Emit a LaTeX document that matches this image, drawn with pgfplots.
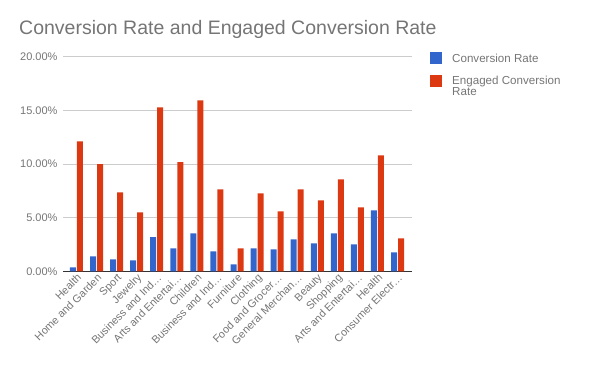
\documentclass[border=0pt]{standalone}
\usepackage{pgfplots}
\pgfplotsset{compat=1.18}
\usepackage{fontspec}
\setmainfont{Liberation Sans}
\definecolor{cblue}{HTML}{3366CC}
\definecolor{cred}{HTML}{DC3912}
\definecolor{tgray}{HTML}{757575}
\definecolor{ggray}{HTML}{CCCCCC}
\definecolor{agray}{HTML}{333333}
\begin{document}
\begin{tikzpicture}[x=1pt,y=1pt]
\useasboundingbox (0,0) rectangle (600,371);
\node[anchor=base west, text=tgray, font=\fontsize{19.5}{20}\selectfont, inner sep=0] at (19,336) {Conversion Rate and Engaged Conversion Rate};
\begin{axis}[
  at={(63pt,99.7pt)}, anchor=south west,
  scale only axis, width=349pt, height=214.7pt,
  ymin=0, ymax=20, xmin=-0.671, xmax=16.72,
  axis line style={draw=none},
  major tick length=0pt,
  ytick={5,10,15,20},
  extra y ticks={0},
  extra y tick style={grid style={agray, line width=1pt}},
  yticklabel={\pgfmathprintnumber[fixed,fixed zerofill,precision=2]{\tick}\%},
  /pgf/number format/assume math mode=true,
  ymajorgrids, grid style={ggray, line width=0.8pt},
  yticklabel style={font=\fontsize{11}{11}\selectfont, text=tgray, xshift=-2pt},
  xtick={0,...,16},
  xticklabels={Health, Home and Garden, Sport, Jewelry, Business and Ind…, Arts and Entertai…, Children, Business and Ind…, Furniture, Clothing, Food and Grocer…, General Merchan…, Beauty, Shopping, Arts and Entertai…, Health, Consumer Electr…},
  xticklabel style={font=\fontsize{10.8}{11}\selectfont, text=tgray, rotate=45, anchor=north east, inner sep=1pt},
  legend style={at={(rel axis cs:1.0516,1.024)}, anchor=north west, draw=none, fill=none,
    font=\fontsize{11.6}{11}\selectfont, text=tgray, row sep=9pt, column sep=8pt, inner sep=0pt,
    cells={anchor=base west}},
]
\addplot[ybar, bar width=6pt, bar shift=-3.5pt, fill=cblue, draw=none,
  legend image code/.code={\fill[cblue] (0pt,-2pt) rectangle (12pt,10pt);}]
  coordinates {(0,0.37) (1,1.40) (2,1.12) (3,1.02) (4,3.19) (5,2.14) (6,3.54) (7,1.86) (8,0.65) (9,2.14) (10,2.05) (11,2.98) (12,2.61) (13,3.54) (14,2.51) (15,5.68) (16,1.77)};
\addlegendentry{Conversion Rate}
\addplot[ybar, bar width=6pt, bar shift=3.5pt, fill=cred, draw=none,
  legend image code/.code={\fill[cred] (0pt,-2pt) rectangle (12pt,10pt);}]
  coordinates {(0,12.10) (1,9.99) (2,7.35) (3,5.49) (4,15.27) (5,10.18) (6,15.92) (7,7.63) (8,2.14) (9,7.26) (10,5.59) (11,7.63) (12,6.61) (13,8.57) (14,5.96) (15,10.80) (16,3.07)};
\addlegendentry{\parbox[t]{120pt}{\fontsize{11.6}{11}\selectfont Engaged Conversion\\Rate}}
\end{axis}
\end{tikzpicture}
\end{document}
